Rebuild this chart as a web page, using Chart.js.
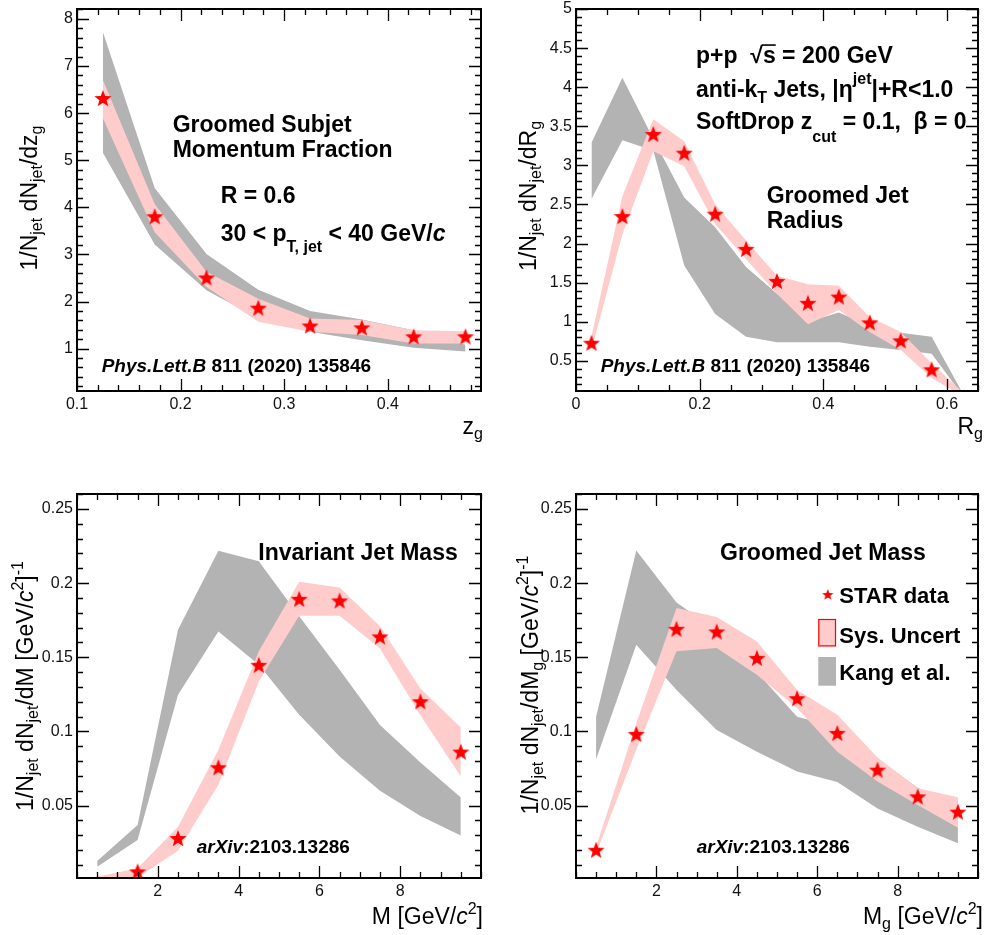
<!DOCTYPE html>
<html>
<head>
<meta charset="utf-8">
<script src="https://cdn.jsdelivr.net/npm/chart.js@4.4.1/dist/chart.umd.min.js"></script>
<style>
  html, body { margin: 0; padding: 0; background: #fff; }
  #wrap { position: relative; width: 987px; height: 935px; background: #fff; }
  canvas { position: absolute; }
</style>
</head>
<body>
<div id="wrap">
  <canvas id="pZg" width="490" height="450" style="left:0;top:0"></canvas>
  <canvas id="pRg" width="497" height="450" style="left:490px;top:0"></canvas>
  <canvas id="pM" width="490" height="485" style="left:0;top:450px"></canvas>
  <canvas id="pMg" width="497" height="485" style="left:490px;top:450px"></canvas>
</div>
<script>
// STAR groomed jet substructure, p+p 200 GeV, 30 < pT < 40 GeV/c, R = 0.6
// values

// --- z_g ---
const zgBins    = [0.125, 0.175, 0.225, 0.275, 0.325, 0.375, 0.425, 0.475];
const zgStar    = [6.30, 3.79, 2.49, 1.85, 1.47, 1.43, 1.24, 1.24];
const zgSysHi   = [6.70, 4.07, 2.63, 2.06, 1.64, 1.61, 1.39, 1.37];
const zgSysLo   = [5.89, 3.47, 2.31, 1.57, 1.36, 1.29, 1.11, 1.11];
const zgKangHi  = [7.72, 4.41, 3.01, 2.25, 1.80, 1.62, 1.39, 1.08];
const zgKangLo  = [5.16, 3.21, 2.24, 1.64, 1.36, 1.18, 1.02, 0.94];
const zgXTicks  = [0.1, 0.2, 0.3, 0.4];
const zgXLabels = ['0.1', '0.2', '0.3', '0.4'];
const zgYTicks  = [1, 2, 3, 4, 5, 6, 7, 8];
const zgYLabels = ['1', '2', '3', '4', '5', '6', '7', '8'];

// --- R_g ---
const rgBins    = [0.025, 0.075, 0.125, 0.175, 0.225, 0.275, 0.325, 0.375, 0.425, 0.475, 0.525, 0.575, 0.625];
const rgStar    = [0.72, 2.34, 3.39, 3.15, 2.37, 1.92, 1.51, 1.23, 1.31, 0.98, 0.75, 0.38, null];
const rgSysHi   = [0.81, 2.61, 3.59, 3.31, 2.50, 2.04, 1.59, 1.48, 1.46, 1.06, 0.87, 0.47, 0.10];
const rgSysLo   = [0.64, 2.12, 3.18, 2.99, 2.25, 1.80, 1.36, 0.97, 1.15, 0.87, 0.64, 0.28, 0.05];
const rgKangHi  = [3.29, 4.12, 3.34, 2.59, 2.21, 1.70, 1.36, 1.00, 1.12, 0.95, 0.86, 0.81, 0.09];
const rgKangLo  = [2.57, 3.32, 3.19, 1.72, 1.10, 0.81, 0.74, 0.74, 0.74, 0.68, 0.64, 0.59, 0.06];
const rgXTicks  = [0, 0.2, 0.4, 0.6];
const rgXLabels = ['0', '0.2', '0.4', '0.6'];
const rgYTicks  = [0.5, 1, 1.5, 2, 2.5, 3, 3.5, 4, 4.5, 5];
const rgYLabels = ['0.5', '1', '1.5', '2', '2.5', '3', '3.5', '4', '4.5', '5'];

// --- M (ungroomed) ---
const mBins     = [0.5, 1.5, 2.5, 3.5, 4.5, 5.5, 6.5, 7.5, 8.5, 9.5];
const mStar     = [null, 0.0050, 0.0275, 0.0752, 0.1443, 0.1888, 0.1877, 0.1634, 0.1197, 0.0858];
const mSysHi    = [0.0020, 0.0077, 0.0358, 0.0876, 0.1540, 0.2010, 0.1970, 0.1710, 0.1290, 0.1027];
const mSysLo    = [0.0000, 0.0016, 0.0196, 0.0640, 0.1337, 0.1780, 0.1780, 0.1560, 0.1110, 0.0696];
const mKangHi   = [0.0127, 0.0370, 0.1686, 0.2219, 0.2147, 0.1776, 0.1416, 0.1044, 0.0790, 0.0554];
const mKangLo   = [0.0088, 0.0268, 0.1247, 0.1674, 0.1450, 0.1112, 0.0831, 0.0601, 0.0430, 0.0298];

// --- M_g (groomed) ---
const mgStar    = [0.0196, 0.0977, 0.1686, 0.1668, 0.1490, 0.1218, 0.0984, 0.0736, 0.0556, 0.0453];
const mgSysHi   = [0.0223, 0.1056, 0.1832, 0.1771, 0.1607, 0.1280, 0.1112, 0.0824, 0.0617, 0.0556];
const mgSysLo   = [0.0178, 0.0876, 0.1540, 0.1562, 0.1382, 0.1157, 0.0864, 0.0662, 0.0505, 0.0351];
const mgKangHi  = [0.1100, 0.2220, 0.1870, 0.1680, 0.1400, 0.1100, 0.1030, 0.0817, 0.0620, 0.0500];
const mgKangLo  = [0.0813, 0.1584, 0.1280, 0.1010, 0.0864, 0.0730, 0.0660, 0.0480, 0.0358, 0.0246];

const massXTicks  = [2, 4, 6, 8];
const massXLabels = ['2', '4', '6', '8'];
const massYTicks  = [0.05, 0.1, 0.15, 0.2, 0.25];
const massYLabels = ['0.05', '0.1', '0.15', '0.2', '0.25'];

const legendLabels = ['STAR data', 'Sys. Uncert', 'Kang et al.'];

const FONT = '"Liberation Sans", Arial, Helvetica, sans-serif';
const GREY = '#b3b3b3';
const PINK = '#ffcccc';
const RED = '#ff0000';

// filled 5-point star like ROOT marker 29
function makeStar(r) {
    const s = Math.ceil(r * 2 + 2);
    const c = document.createElement('canvas');
    c.width = s; c.height = s;
    const g = c.getContext('2d');
    g.fillStyle = RED;
    g.beginPath();
    for (let i = 0; i < 10; i++) {
        const rad = i % 2 ? r * 0.42 : r;
        const a = -Math.PI / 2 + i * Math.PI / 5;
        const px = s / 2 + rad * Math.cos(a), py = s / 2 + rad * Math.sin(a);
        if (i === 0) g.moveTo(px, py); else g.lineTo(px, py);
    }
    g.closePath();
    g.fill();
    return c;
}
const starMark = makeStar(9);
const starSmall = makeStar(6);

function pts(xs, ys) { return xs.map((x, i) => ({ x: x, y: ys[i] })); }

// small TLatex-ish helpers
const R = t => ({ t });
const IT = t => ({ t, it: true });
const SUB = (t, dy) => ({ t, sub: true, dy });
const SUP = (t, dy) => ({ t, sup: true, dy });

function drawRich(ctx, item) {
    const size = item.size || 23;
    const bold = item.bold === false ? '' : 'bold ';
    const small = Math.round(size * 0.68);
    const fontOf = p => (p.it ? 'italic ' : '') + bold + ((p.sub || p.sup) ? small : size) + 'px ' + FONT;
    let w = 0;
    item.parts.forEach(p => { ctx.font = fontOf(p); p.w = ctx.measureText(p.t).width; w += p.w; });
    ctx.save();
    ctx.translate(item.x, item.y);
    if (item.rot) ctx.rotate(item.rot);
    let cx = item.align === 'right' ? -w : item.align === 'center' ? -w / 2 : 0;
    ctx.fillStyle = '#000';
    ctx.strokeStyle = '#000';
    ctx.textBaseline = 'alphabetic';
    ctx.textAlign = 'left';
    item.parts.forEach(p => {
        ctx.font = fontOf(p);
        let dy = 0;
        if (p.sub) dy = p.dy !== undefined ? p.dy : size * (item.subK || 0.3);
        if (p.sup) dy = p.dy !== undefined ? p.dy : -size * 0.45;
        ctx.fillText(p.t, cx, dy);
        if (p.over) {
            ctx.lineWidth = 1.6;
            ctx.beginPath();
            ctx.moveTo(cx - 1, -size * 0.78);
            ctx.lineTo(cx + p.w, -size * 0.78);
            ctx.stroke();
        }
        cx += p.w;
    });
    ctx.restore();
}

function drawAxisTicks(ctx, chart, xMajor, xStep, yMajor, yStep) {
    const a = chart.chartArea, xs = chart.scales.x, ys = chart.scales.y;
    ctx.save();
    ctx.strokeStyle = '#000';
    ctx.lineWidth = 1.3;
    ctx.beginPath();
    const isMaj = (v, list, st) => list.some(m => Math.abs(m - v) < st * 0.01);
    for (let n = Math.ceil(xs.min / xStep - 1e-6); n <= Math.floor(xs.max / xStep + 1e-6); n++) {
        const v = n * xStep, px = Math.round(xs.getPixelForValue(v)) + 0.5;
        const len = isMaj(v, xMajor, xStep) ? 12 : 6;
        ctx.moveTo(px, a.bottom); ctx.lineTo(px, a.bottom - len);
        ctx.moveTo(px, a.top); ctx.lineTo(px, a.top + len);
    }
    for (let n = Math.ceil(ys.min / yStep - 1e-6); n <= Math.floor(ys.max / yStep + 1e-6); n++) {
        const v = n * yStep, py = Math.round(ys.getPixelForValue(v)) + 0.5;
        const len = isMaj(v, yMajor, yStep) ? 12 : 6;
        ctx.moveTo(a.left, py); ctx.lineTo(a.left + len, py);
        ctx.moveTo(a.right, py); ctx.lineTo(a.right - len, py);
    }
    ctx.stroke();
    ctx.lineWidth = 2;
    ctx.strokeRect(a.left, a.top, a.right - a.left, a.bottom - a.top);
    ctx.restore();
}

function decor(cfg) {
    return {
        id: 'decor',
        afterDraw(chart) {
            const ctx = chart.ctx;
            drawAxisTicks(ctx, chart, cfg.xTicks, cfg.xMinor, cfg.yTicks, cfg.yMinor);
            cfg.texts.forEach(t => drawRich(ctx, t));
            if (cfg.legend) {
                const L = cfg.legend;
                ctx.save();
                ctx.drawImage(starSmall, L.x + 9.5 - starSmall.width / 2, L.y - starSmall.height / 2);
                ctx.fillStyle = PINK;
                ctx.fillRect(L.x, L.y + 24, 17.7, 27.4);
                ctx.strokeStyle = RED;
                ctx.lineWidth = 1.2;
                ctx.strokeRect(L.x + 0.5, L.y + 24.5, 16.7, 26.4);
                ctx.fillStyle = GREY;
                ctx.fillRect(L.x, L.y + 62, 17.7, 28.7);
                ctx.restore();
                drawRich(ctx, { parts: [R(legendLabels[0])], x: L.x + 21, y: L.y + 7.5, size: 22 });
                drawRich(ctx, { parts: [R(legendLabels[1])], x: L.x + 21, y: L.y + 47.5, size: 22 });
                drawRich(ctx, { parts: [R(legendLabels[2])], x: L.x + 21, y: L.y + 85, size: 22 });
            }
        }
    };
}

function makePanel(id, cfg) {
    const cv = document.getElementById(id);
    const W = cv.width, H = cv.height, A = cfg.area;
    const tickFont = { family: FONT, size: 16 };
    return new Chart(cv, {
        type: 'line',
        data: {
            datasets: [
                { data: pts(cfg.bins, cfg.kangHi), fill: '+1', backgroundColor: GREY, borderColor: 'transparent', borderWidth: 0, pointRadius: 0, order: 3 },
                { data: pts(cfg.bins, cfg.kangLo), fill: false, borderColor: 'transparent', borderWidth: 0, pointRadius: 0, order: 3 },
                { data: pts(cfg.bins, cfg.sysHi), fill: '+1', backgroundColor: PINK, borderColor: 'transparent', borderWidth: 0, pointRadius: 0, order: 2 },
                { data: pts(cfg.bins, cfg.sysLo), fill: false, borderColor: 'transparent', borderWidth: 0, pointRadius: 0, order: 2 },
                { data: pts(cfg.bins, cfg.star), showLine: false, pointStyle: starMark, pointRadius: 8, order: 1 }
            ]
        },
        options: {
            responsive: false,
            animation: false,
            events: [],
            layout: { padding: { left: 0, top: A[1], right: W - A[2], bottom: 0 } },
            plugins: { legend: { display: false }, tooltip: { enabled: false } },
            scales: {
                x: {
                    type: 'linear', min: cfg.xMin, max: cfg.xMax, bounds: 'data',
                    grid: { display: false, drawTicks: false },
                    border: { display: false },
                    ticks: { autoSkip: false, maxRotation: 0, padding: 4, font: tickFont, color: '#111',
                             callback: (v, i) => cfg.xLabels[i] },
                    afterBuildTicks: s => { s.ticks = cfg.xTicks.map(v => ({ value: v })); },
                    afterFit: s => { s.height = H - A[3]; s.paddingLeft = 0; s.paddingRight = 0; }
                },
                y: {
                    type: 'linear', min: cfg.yMin, max: cfg.yMax, bounds: 'data',
                    grid: { display: false, drawTicks: false },
                    border: { display: false },
                    ticks: { autoSkip: false, padding: 4, font: tickFont, color: '#111',
                             callback: (v, i) => cfg.yLabels[i] },
                    afterBuildTicks: s => { s.ticks = cfg.yTicks.map(v => ({ value: v })); },
                    afterFit: s => { s.width = A[0]; s.paddingTop = 0; s.paddingBottom = 0; }
                }
            }
        },
        plugins: [decor(cfg)]
    });
}

const yTitleJet = [R('1/N'), SUB('jet'), R(' dN'), SUB('jet')];

makePanel('pZg', {
    area: [77, 7, 484, 391],
    bins: zgBins, star: zgStar, sysHi: zgSysHi, sysLo: zgSysLo, kangHi: zgKangHi, kangLo: zgKangLo,
    xMin: 0.1, xMax: 0.49, yMin: 0.1, yMax: 8.21,
    xTicks: zgXTicks, xLabels: zgXLabels, xMinor: 0.02,
    yTicks: zgYTicks, yLabels: zgYLabels, yMinor: 0.2,
    texts: [
        { parts: [R('Groomed Subjet')], x: 172.7, y: 132 },
        { parts: [R('Momentum Fraction')], x: 172.7, y: 157 },
        { parts: [R('R = 0.6')], x: 220.7, y: 203 },
        { parts: [R('30 < p'), SUB('T, jet', 11), R(' < 40 GeV/'), IT('c')], x: 220.7, y: 240.7 },
        { parts: [IT('Phys.Lett.B'), R(' 811 (2020) 135846')], x: 101.7, y: 371.7, size: 19 },
        { parts: yTitleJet.concat([R('/dz'), SUB('g')]), x: 37, y: 198, rot: -Math.PI / 2, align: 'center', bold: false, subK: 0.22 },
        { parts: [R('z'), SUB('g')], x: 483, y: 434, align: 'right', bold: false, subK: 0.2 }
    ]
});

makePanel('pRg', {
    area: [86, 7, 493, 391],
    bins: rgBins, star: rgStar, sysHi: rgSysHi, sysLo: rgSysLo, kangHi: rgKangHi, kangLo: rgKangLo,
    xMin: 0, xMax: 0.65, yMin: 0.115, yMax: 5,
    xTicks: rgXTicks, xLabels: rgXLabels, xMinor: 0.05,
    yTicks: rgYTicks, yLabels: rgYLabels, yMinor: 0.1,
    texts: [
        { parts: [R('p+p  \u221A'), Object.assign(R('s'), { over: true }), R(' = 200 GeV')], x: 206, y: 63 },
        { parts: [R('anti-k'), SUB('T', 6), R(' Jets, |\u03B7'), SUP('jet', -13), R('|+R<1.0')], x: 206, y: 96.7 },
        { parts: [R('SoftDrop z'), SUB('cut', 13), R(' = 0.1,  \u03B2 = 0')], x: 206, y: 129.3 },
        { parts: [R('Groomed Jet')], x: 276.7, y: 203.3 },
        { parts: [R('Radius')], x: 276.7, y: 227.7 },
        { parts: [IT('Phys.Lett.B'), R(' 811 (2020) 135846')], x: 110.7, y: 371.7, size: 19 },
        { parts: yTitleJet.concat([R('/dR'), SUB('g')]), x: 46, y: 196, rot: -Math.PI / 2, align: 'center', bold: false, subK: 0.22 },
        { parts: [R('R'), SUB('g')], x: 493, y: 434, align: 'right', bold: false, subK: 0.2 }
    ]
});

makePanel('pM', {
    area: [77, 44, 484, 428],
    bins: mBins, star: mStar, sysHi: mSysHi, sysLo: mSysLo, kangHi: mKangHi, kangLo: mKangLo,
    xMin: 0, xMax: 10, yMin: 0.0012, yMax: 0.2601,
    xTicks: massXTicks, xLabels: massXLabels, xMinor: 0.5,
    yTicks: massYTicks, yLabels: massYLabels, yMinor: 0.01,
    texts: [
        { parts: [R('Invariant Jet Mass')], x: 258.3, y: 110 },
        { parts: [IT('arXiv'), R(':2103.13286')], x: 196.7, y: 403.3, size: 19 },
        { parts: yTitleJet.concat([R('/dM [GeV/'), IT('c'), SUP('2'), R(']'), SUP('-1')]), x: 33, y: 236, rot: -Math.PI / 2, align: 'center', bold: false, subK: 0.22 },
        { parts: [R('M [GeV/'), IT('c'), SUP('2'), R(']')], x: 483, y: 474, align: 'right', bold: false }
    ]
});

makePanel('pMg', {
    area: [86, 44, 493, 428],
    bins: mBins, star: mgStar, sysHi: mgSysHi, sysLo: mgSysLo, kangHi: mgKangHi, kangLo: mgKangLo,
    xMin: 0, xMax: 10, yMin: 0.0012, yMax: 0.2601,
    xTicks: massXTicks, xLabels: massXLabels, xMinor: 0.5,
    yTicks: massYTicks, yLabels: massYLabels, yMinor: 0.01,
    legend: { x: 328.3, y: 145 },
    texts: [
        { parts: [R('Groomed Jet Mass')], x: 230, y: 110 },
        { parts: [IT('arXiv'), R(':2103.13286')], x: 206.7, y: 403.3, size: 19 },
        { parts: yTitleJet.concat([R('/dM'), SUB('g'), R(' [GeV/'), IT('c'), SUP('2'), R(']'), SUP('-1')]), x: 48, y: 235, rot: -Math.PI / 2, align: 'center', bold: false, subK: 0.22 },
        { parts: [R('M'), SUB('g'), R(' [GeV/'), IT('c'), SUP('2'), R(']')], x: 493, y: 474, align: 'right', bold: false, subK: 0.2 }
    ]
});
</script>
</body>
</html>
